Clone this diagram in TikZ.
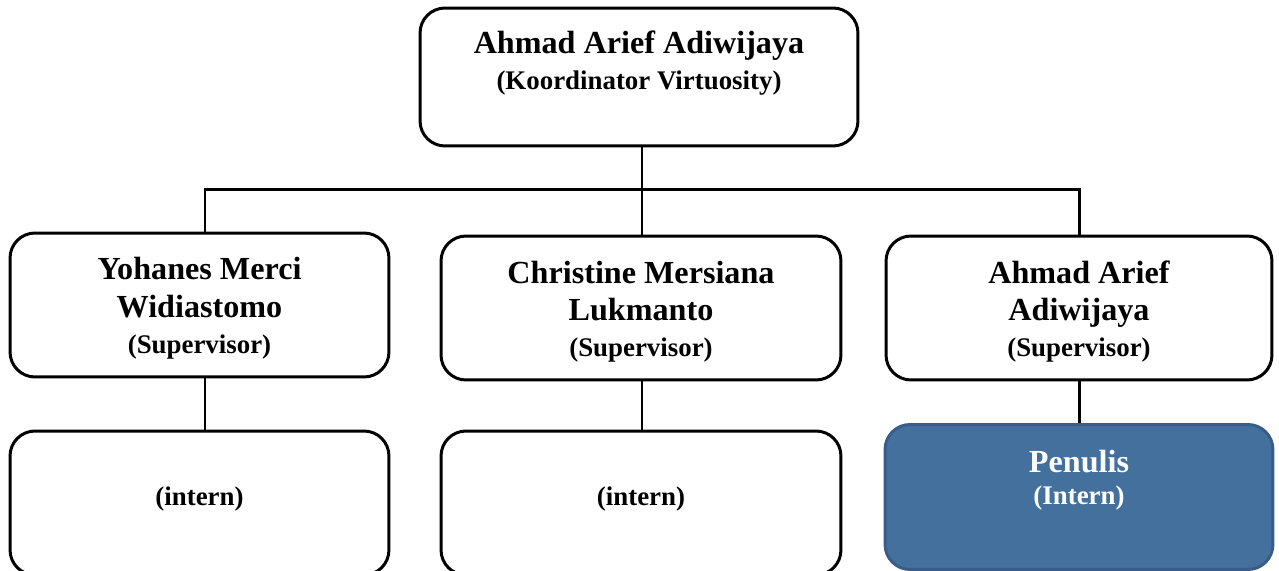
\documentclass[tikz,border=0pt]{standalone}
\usepackage{fontspec}
\setmainfont{Liberation Serif}
\usetikzlibrary{positioning,calc}
\definecolor{penfill}{RGB}{68,112,157}
\definecolor{penline}{RGB}{56,93,138}
\begin{document}
\begin{tikzpicture}
  [x=0.02cm,y=-0.02cm,
   box/.style={rectangle,draw,line width=1.7pt,rounded corners=0.5cm,
     inner sep=0pt,minimum height=2.88cm},
   pbox/.style={box,draw=penline,fill=penfill},
   nm/.style={font=\fontsize{18.3}{22}\selectfont\bfseries,inner sep=0pt,anchor=base},
   role/.style={font=\fontsize{15.3}{18}\selectfont\bfseries,inner sep=0pt,anchor=base},
   link/.style={line width=1.7pt}]
\useasboundingbox (0,0) rectangle (1279,571);
% boxes
\node [box,minimum width=8.76cm,minimum height=2.76cm] (boss) at (639,77) {};
\node [box,minimum width=7.58cm] (sup1) at (199.5,305) {};
\node [box,minimum width=8cm] (sup2) at (641,308) {};
\node [box,minimum width=7.72cm] (sup3) at (1079,308) {};
\node [box,minimum width=7.58cm] (int1) at (199.5,503) {};
\node [box,minimum width=8cm] (int2) at (641,503) {};
\node [pbox,minimum width=7.76cm,minimum height=2.9cm] (pen) at (1079,497) {};
% texts
\node [nm] (bossname) at ($(boss.north)+(0,47)$) {Ahmad Arief Adiwijaya};
\node [role] (bossrole) at ($(boss.north)+(0,83)$) {(Koordinator Virtuosity)};
\node [nm] (sup1a) at ($(sup1.north)+(0,48)$) {Yohanes Merci};
\node [nm] (sup1b) at ($(sup1.north)+(0,86)$) {Widiastomo};
\node [role] (sup1r) at ($(sup1.north)+(0,122)$) {(Supervisor)};
\node [nm] (sup2a) at ($(sup2.north)+(0,49)$) {Christine Mersiana};
\node [nm] (sup2b) at ($(sup2.north)+(0,86)$) {Lukmanto};
\node [role] (sup2r) at ($(sup2.north)+(0,122)$) {(Supervisor)};
\node [nm] (sup3a) at ($(sup3.north)+(0,49)$) {Ahmad Arief};
\node [nm] (sup3b) at ($(sup3.north)+(0,86)$) {Adiwijaya};
\node [role] (sup3r) at ($(sup3.north)+(0,122)$) {(Supervisor)};
\node [role] (int1r) at ($(int1.north)+(0,76)$) {(intern)};
\node [role] (int2r) at ($(int2.north)+(0,76)$) {(intern)};
\node [nm,text=white] (pena) at ($(pen.north)+(0,49)$) {Penulis};
\node [role,text=white] (penr) at ($(pen.north)+(0,81)$) {(Intern)};
% lines
\coordinate (bus) at ($(boss.south)+(3,42)$);
\coordinate (leftdrop) at ($(sup1.north)+(5.5,0)$);
\draw [link] (bus |- boss.south) -- (bus |- sup2.north);
\draw [link] (leftdrop) |- (bus) -| (sup3.north);
\draw [link] (sup1.south -| leftdrop) -- (int1.north -| leftdrop);
\draw [link] (sup2.south -| bus) -- (int2.north -| bus);
\draw [link] (sup3.south) -- (pen.north);
\end{tikzpicture}
\end{document}
